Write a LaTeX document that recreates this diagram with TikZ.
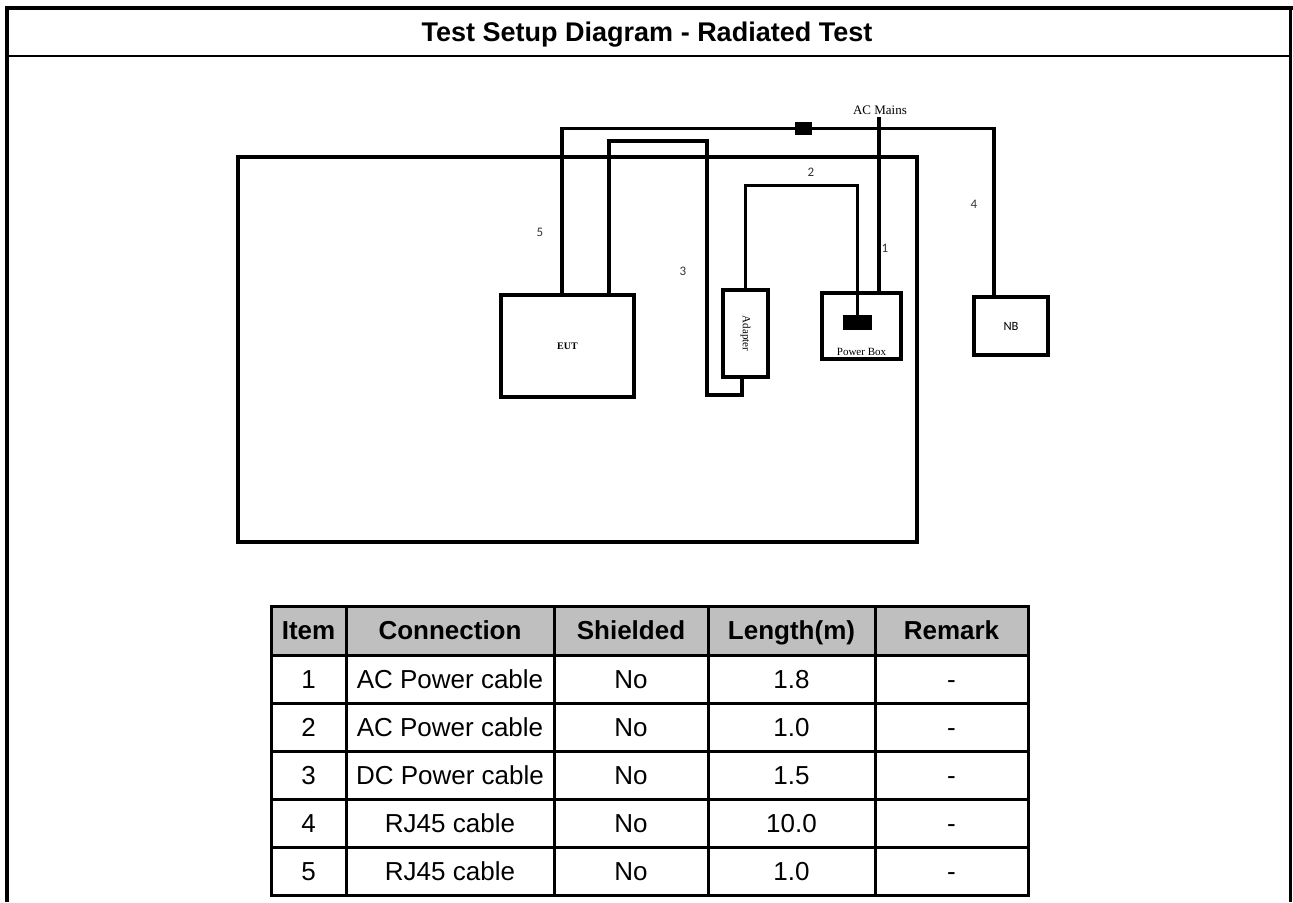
\documentclass[tikz,border=0pt]{standalone}
\usepackage{fontspec}
\setmainfont{Liberation Sans}
\newfontfamily\timesfont{Liberation Serif}
\newfontfamily\calfont{Carlito}
\usetikzlibrary{positioning}

\tikzset{
  unit/.style={draw, line width=1.6pt, inner sep=0pt},
  plugbox/.style={fill, inner sep=0pt},
  cable/.style={line width=1.6pt},
  cablenum/.style={font=\calfont\fontsize{6.5}{7}\selectfont, text=black!80},
  tabline/.style={line width=1.5pt},
  cell/.style={font=\fontsize{13}{15}\selectfont, text height=9.3pt, text depth=0pt, inner sep=0pt},
  headcell/.style={cell, font=\bfseries\fontsize{13}{15}\selectfont},
}

\begin{document}
\begin{tikzpicture}[x=0.5pt, y=-0.5pt]
    \useasboundingbox (0,0) rectangle (1293,902);
    % frame and title
    \draw[line width=2pt] (7,902) -- (7,8) -- (1293,8);
    \draw[line width=1.5pt] (1290,8) -- (1290,902);
    \draw[line width=1pt] (7,55.5) -- (1290,55.5);
    \node[headcell, font=\bfseries\fontsize{13.5}{16}\selectfont, text height=9.7pt] (title) at (647,32) {Test Setup Diagram - Radiated Test};

    % setup
    \node[unit, minimum width=339.5pt, minimum height=192.5pt] (desk) at (577.5,349.5) {};
    \node[unit, minimum width=66.5pt, minimum height=51pt, font=\timesfont\bfseries\fontsize{5}{6}\selectfont] (eut) at (567.5,346) {EUT};
    \node[unit, minimum width=22.5pt, minimum height=43.5pt] (adp) at (745.5,333.5) {};
    \node[rotate=-90, font=\timesfont\fontsize{5.5}{6}\selectfont] (adplbl) at (adp.center) {Adapter};
    \node[unit, minimum width=39.5pt, minimum height=33pt] (pwr) at (861.5,326) {};
    \node[plugbox, minimum width=14.5pt, minimum height=7.5pt] (plug) at (857.5,322.5) {};
    \node[inner sep=0pt, above=2.5pt of pwr.south, font=\timesfont\fontsize{5.5}{6}\selectfont] (pwrlbl) {Power Box};
    \node[unit, minimum width=37pt, minimum height=29pt, font=\calfont\fontsize{6.3}{7}\selectfont] (nb) at (1011,326) {NB};
    \node[plugbox, minimum width=8.5pt, minimum height=6.5pt] (ferrite) at (803.5,128.5) {};
    \node[font=\timesfont\fontsize{6.5}{7}\selectfont, inner sep=1pt] (acmains) at (880,110) {AC Mains};

    % cables
    \draw[cable] ([xshift=-2.75pt]eut.north) |- (ferrite.west);
    \draw[cable] (ferrite.east) -| ([xshift=-8.5pt]nb.north);
    \draw[cable] ([xshift=20.75pt]eut.north) |- (707,141) -- (707,395) -| ([xshift=-1.75pt]adp.south);
    \draw[cable] (adp.north) -- ++(0,-103) -| (plug.north);
    \draw[cable] ([xshift=8.75pt]pwr.north) -- ([xshift=8.75pt]pwr.north |- acmains.south);

    \node[cablenum] (n1) at (885,248) {1};
    \node[cablenum] (n2) at (811,172) {2};
    \node[cablenum] (n3) at (683,271) {3};
    \node[cablenum] (n4) at (974,204) {4};
    \node[cablenum] (n5) at (540,232) {5};

    % cable table
    \fill[black!25] (271,606) rectangle (1028,655);
    \draw[tabline] (271,606) rectangle (1028,895);
    \foreach \y in {655,703,751,799,847}
        \draw[tabline] (271,\y) -- (1028,\y);
    \foreach \x in {346,554,708,875}
        \draw[tabline] (\x,606) -- (\x,895);

    \node[headcell] (hitem) at (308.5,630.5) {Item};
    \node[headcell] (hconn) at (450,630.5) {Connection};
    \node[headcell] (hshield) at (631,630.5) {Shielded};
    \node[headcell] (hlength) at (791.5,630.5) {Length(m)};
    \node[headcell] (hremark) at (951.5,630.5) {Remark};

    \foreach \num/\conn/\clen [count=\r] in {1/AC Power cable/1.8, 2/AC Power cable/1.0, 3/DC Power cable/1.5, 4/RJ45 cable/10.0, 5/RJ45 cable/1.0} {
        \pgfmathsetmacro\yc{631+48*\r}
        \node[cell] (item\r) at (308.5,\yc) {\num};
        \node[cell] (conn\r) at (450,\yc) {\conn};
        \node[cell] (shield\r) at (631,\yc) {No};
        \node[cell] (length\r) at (791.5,\yc) {\clen};
        \node[cell] (remark\r) at (951.5,\yc) {-};
    }
\end{tikzpicture}
\end{document}
